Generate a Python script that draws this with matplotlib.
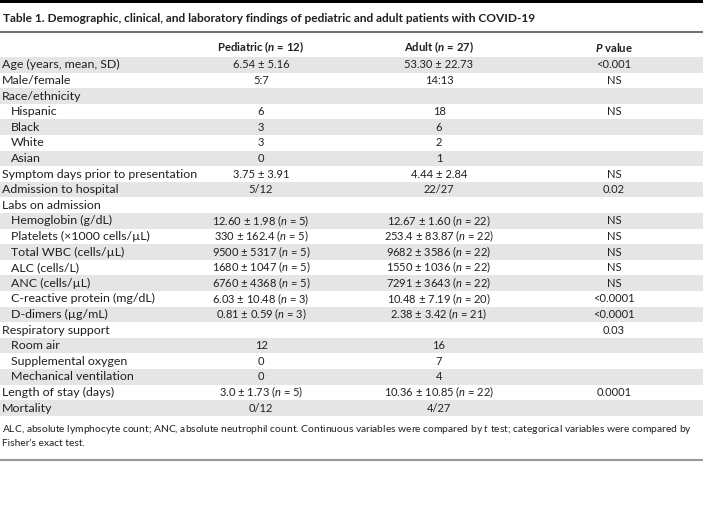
import matplotlib
matplotlib.use("Agg")
import matplotlib.pyplot as plt

plt.rcParams['font.family'] = ['Lato', 'DejaVu Sans']
plt.rcParams['mathtext.fontset'] = 'custom'
plt.rcParams['mathtext.rm'] = 'Lato'
plt.rcParams['mathtext.it'] = 'Lato:italic'
plt.rcParams['mathtext.bf'] = 'Lato:bold'
plt.rcParams['mathtext.bfit'] = 'Lato:bold:italic'

title = "Table 1. Demographic, clinical, and laboratory findings of pediatric and adult patients with COVID-19"
headers = ["Pediatric ($\\mathbfit{n}$ = 12)", "Adult ($\\mathbfit{n}$ = 27)", "$\\mathbfit{P}$ value"]

row_labels = ["Age (years, mean, SD)", "Male/female", "Race/ethnicity", "Hispanic", "Black", "White", "Asian",
              "Symptom days prior to presentation", "Admission to hospital", "Labs on admission",
              "Hemoglobin (g/dL)", "Platelets (×1000 cells/µL)", "Total WBC (cells/µL)", "ALC (cells/L)",
              "ANC (cells/µL)", "C-reactive protein (mg/dL)", "D-dimers (µg/mL)", "Respiratory support",
              "Room air", "Supplemental oxygen", "Mechanical ventilation", "Length of stay (days)", "Mortality"]
indented = [0, 0, 0, 1, 1, 1, 1, 0, 0, 0, 1, 1, 1, 1, 1, 1, 1, 0, 1, 1, 1, 0, 0]

pediatric = ["6.54 ± 5.16", "5:7", "", "6", "3", "3", "0", "3.75 ± 3.91", "5/12", "",
             "12.60 ± 1.98 ($\\mathit{n}$ = 5)", "330 ± 162.4 ($\\mathit{n}$ = 5)", "9500 ± 5317 ($\\mathit{n}$ = 5)",
             "1680 ± 1047 ($\\mathit{n}$ = 5)", "6760 ± 4368 ($\\mathit{n}$ = 5)", "6.03 ± 10.48 ($\\mathit{n}$ = 3)",
             "0.81 ± 0.59 ($\\mathit{n}$ = 3)", "", "12", "0", "0", "3.0 ± 1.73 ($\\mathit{n}$ = 5)", "0/12"]
adult = ["53.30 ± 22.73", "14:13", "", "18", "6", "2", "1", "4.44 ± 2.84", "22/27", "",
         "12.67 ± 1.60 ($\\mathit{n}$ = 22)", "253.4 ± 83.87 ($\\mathit{n}$ = 22)", "9682 ± 3586 ($\\mathit{n}$ = 22)",
         "1550 ± 1036 ($\\mathit{n}$ = 22)", "7291 ± 3643 ($\\mathit{n}$ = 22)", "10.48 ± 7.19 ($\\mathit{n}$ = 20)",
         "2.38 ± 3.42 ($\\mathit{n}$ = 21)", "", "16", "7", "4", "10.36 ± 10.85 ($\\mathit{n}$ = 22)", "4/27"]
pvalues = ["<0.001", "NS", "", "NS", "", "", "", "NS", "0.02", "",
           "NS", "NS", "NS", "NS", "NS", "<0.0001", "<0.0001", "0.03", "", "", "", "0.0001", ""]

footnote1 = "ALC, absolute lymphocyte count; ANC, absolute neutrophil count. Continuous variables were compared by $\\mathit{t}$ test; categorical variables were compared by"
footnote2 = "Fisher's exact test."

W, H = 703, 513
fig = plt.figure(figsize=(W / 100, H / 100), dpi=100)
ax = fig.add_axes([0, 0, 1, 1])
ax.set_xlim(0, W)
ax.set_ylim(H, 0)
ax.axis('off')

txt = '#231f20'
fs_label = 8.9
fs_val = 8.0
fs_note = 7.4
# top bar and rules
ax.axhspan(0, 2.5, color='black', lw=0)
ax.plot([0, W], [32, 32], color='#555555', lw=1.2)
ax.text(3, 18, title, fontsize=8.6, fontweight='bold', va='center', ha='left', color=txt)

col_x = [261, 439, 614]
header_y = 47
for x, h in zip(col_x, headers):
    ax.text(x, header_y, h, fontsize=8.2, fontweight='bold', ha='center', va='center', color=txt)

y0 = 57.0
rh = 15.6
n = len(row_labels)
ys = [y0 + rh * (i + 0.5) for i in range(n)]
ax.barh([y for i, y in enumerate(ys) if i % 2 == 0], W, height=rh, left=0, color='#e5e5e5', lw=0)

for i, y in enumerate(ys):
    ax.text(11 if indented[i] else 2, y, row_labels[i], fontsize=fs_label, ha='left', va='center', color=txt)
    ax.text(col_x[0], y, pediatric[i], fontsize=fs_val, ha='center', va='center', color=txt)
    ax.text(col_x[1], y, adult[i], fontsize=fs_val, ha='center', va='center', color=txt)
    ax.text(col_x[2], y, pvalues[i], fontsize=fs_val, ha='center', va='center', color=txt)

ax.text(2, 429, footnote1, fontsize=fs_note, ha='left', va='center', color=txt)
ax.text(2, 444, footnote2, fontsize=fs_note, ha='left', va='center', color=txt)
ax.plot([0, W], [460, 460], color='#999999', lw=1.5)

fig.savefig('out.png', dpi=100)
